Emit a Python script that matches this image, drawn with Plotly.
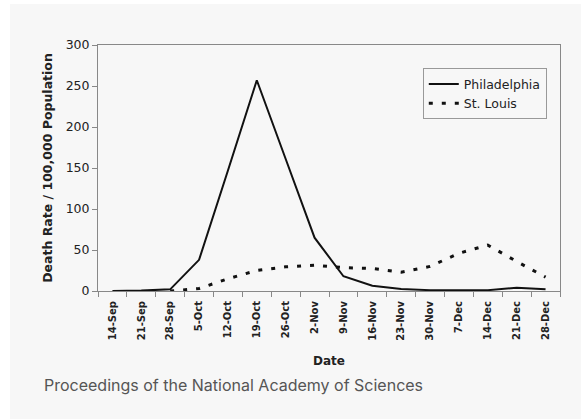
import plotly.graph_objects as go

dates = ["14-Sep", "21-Sep", "28-Sep", "5-Oct", "12-Oct", "19-Oct", "26-Oct", "2-Nov",
         "9-Nov", "16-Nov", "23-Nov", "30-Nov", "7-Dec", "14-Dec", "21-Dec", "28-Dec"]
philadelphia = [0, 0.5, 2, 38, 147, 257, 161, 65, 18, 6.5, 2.5, 1, 1, 1, 4, 2]
st_louis = [None, None, 0, 3, 15, 25, 29.5, 31.5, 28.5, 27.5, 23, 30, 46, 56, 36, 17]
y_ticks = [0, 50, 100, 150, 200, 250, 300]

fig = go.Figure()
fig.add_trace(go.Scatter(
    x=dates, y=st_louis, name="St. Louis", mode="lines",
    line=dict(color="#111111", width=3, dash="4px,9px"),
))
fig.add_trace(go.Scatter(
    x=dates, y=philadelphia, name="Philadelphia", mode="lines",
    line=dict(color="#111111", width=2),
))

# light card background
fig.add_shape(type="rect", xref="paper", yref="paper",
              x0=-0.1905, x1=1.05, y0=-0.52, y1=1.1667,
              fillcolor="#f7f7f7", line=dict(width=0), layer="below")

font = "DejaVu Sans, Arial, sans-serif"
fig.update_layout(
    width=581, height=419,
    margin=dict(l=98, r=21, t=45, b=128, autoexpand=False),
    paper_bgcolor="white",
    plot_bgcolor="rgba(0,0,0,0)",
    font=dict(family=font, color="#222222"),
    showlegend=True,
    legend=dict(
        x=0.703, y=0.905, xanchor="left", yanchor="top",
        bgcolor="rgba(0,0,0,0)", bordercolor="#999999", borderwidth=1,
        font=dict(size=12.5, family=font, color="#222222"),
        traceorder="reversed", tracegroupgap=0,
        itemwidth=30,
    ),
    xaxis=dict(
        type="category", tickmode="array", tickvals=dates, ticktext=dates,
        tickangle=-90, tickson="boundaries", ticks="outside", ticklen=5,
        tickcolor="#888888", automargin=False, ticklabelstandoff=5,
        showline=True, linecolor="#888888", linewidth=1, mirror=True,
        showgrid=False, zeroline=False,
        tickfont=dict(size=10, family=font, color="#222222", weight="bold"),
        title=dict(text="<b>Date</b>", font=dict(size=12, family=font, color="#222222"), standoff=16),
        range=[-0.5, 15.5],
    ),
    yaxis=dict(
        range=[0, 300], tickmode="array", tickvals=y_ticks,
        ticks="outside", ticklen=5, tickcolor="#888888", automargin=False,
        showline=True, linecolor="#888888", linewidth=1, mirror=True,
        showgrid=False, zeroline=False,
        tickfont=dict(size=12.5, family=font, color="#222222"),
        title=dict(text="<b>Death Rate / 100,000 Population</b>",
                   font=dict(size=12.5, family=font, color="#222222"), standoff=10),
    ),
    annotations=[dict(
        text="Proceedings of the National Academy of Sciences",
        xref="paper", yref="paper", x=-0.121, y=-0.382,
        xanchor="left", yanchor="middle", showarrow=False,
        font=dict(size=16, family="Inter, Noto Sans, sans-serif", color="#555555"),
    )],
)

fig.write_html("out.html", config={"displayModeBar": False},
               post_script="document.body.style.margin='0';")
